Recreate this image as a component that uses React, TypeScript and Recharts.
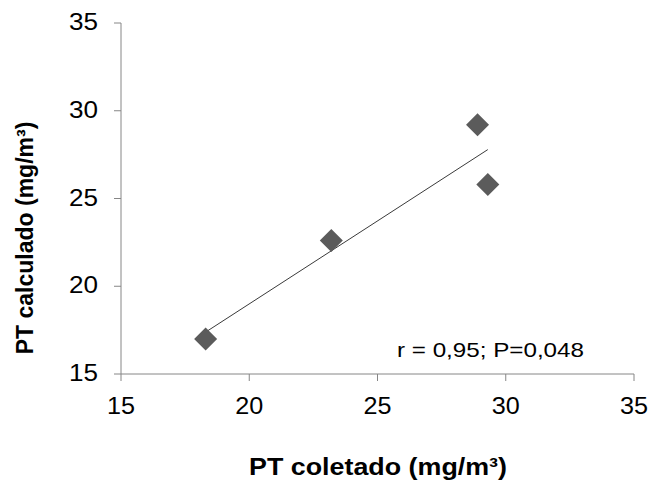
import React from 'react';
import { ScatterChart, Scatter, XAxis, YAxis, ReferenceLine } from 'recharts';

const xValues = [18.3, 23.2, 28.9, 29.3];
const yValues = [17.0, 22.6, 29.2, 25.8];
const xTicks = [15, 20, 25, 30, 35];
const yTicks = [15, 20, 25, 30, 35];
const xTitle = 'PT coletado (mg/m³)';
const yTitle = 'PT calculado (mg/m³)';
const statText = 'r = 0,95; P=0,048';

const points = xValues.map((x, i) => ({ x, y: yValues[i] }));

// least-squares trend line from the data
const n = xValues.length;
const mx = xValues.reduce((a, b) => a + b, 0) / n;
const my = yValues.reduce((a, b) => a + b, 0) / n;
let sxy = 0;
let sxx = 0;
xValues.forEach((x, i) => {
  sxy += (x - mx) * (yValues[i] - my);
  sxx += (x - mx) * (x - mx);
});
const slope = sxy / sxx;
const intercept = my - slope * mx;
const xMin = Math.min(...xValues);
const xMax = Math.max(...xValues);
const trendSegment = [
  { x: xMin, y: intercept + slope * xMin },
  { x: xMax, y: intercept + slope * xMax },
];

const FONT = '"Liberation Sans", Arial, sans-serif';
const AXIS = '#868686';

const Diamond = (props: any) => {
  const { cx, cy } = props;
  if (cx == null || cy == null) return null;
  const h = 11.5;
  return (
    <polygon
      points={`${cx},${cy - h} ${cx + h},${cy} ${cx},${cy + h} ${cx - h},${cy}`}
      fill="#5b5b5b"
    />
  );
};

const XTick = (props: any) => {
  const { x, y, payload } = props;
  return (
    <text
      x={x}
      y={y}
      dy={17}
      textAnchor="middle"
      fontFamily={FONT}
      fontSize={24}
      fill="#000"
      textLength={28}
      lengthAdjust="spacingAndGlyphs"
    >
      {String(payload.value)}
    </text>
  );
};

const YTick = (props: any) => {
  const { x, y, payload } = props;
  return (
    <text
      x={x}
      y={y}
      dy={7}
      textAnchor="end"
      fontFamily={FONT}
      fontSize={24}
      fill="#000"
      textLength={29}
      lengthAdjust="spacingAndGlyphs"
    >
      {String(payload.value)}
    </text>
  );
};

const XTitle = () => (
  <text
    x={378}
    y={475}
    textAnchor="middle"
    fontFamily={FONT}
    fontSize={24}
    fontWeight="bold"
    fill="#000"
    textLength={258}
    lengthAdjust="spacingAndGlyphs"
  >
    {xTitle}
  </text>
);

const YTitle = () => (
  <text
    x={0}
    y={0}
    transform="translate(33,238) rotate(-90)"
    textAnchor="middle"
    fontFamily={FONT}
    fontSize={23}
    fontWeight="bold"
    fill="#000"
  >
    {yTitle}
  </text>
);

export default function App() {
  return (
    <div style={{ position: 'absolute', left: 0, top: 0, width: 652, height: 482, background: '#fff' }}>
      <ScatterChart width={652} height={482} margin={{ top: 23, right: 18, bottom: 8, left: 0 }}>
        <XAxis
          type="number"
          dataKey="x"
          domain={[15, 35]}
          ticks={xTicks}
          height={100}
          tickSize={7}
          tickMargin={16}
          axisLine={{ stroke: AXIS, strokeWidth: 1 }}
          tickLine={{ stroke: AXIS, strokeWidth: 1 }}
          tick={<XTick />}
          label={<XTitle />}
        />
        <YAxis
          type="number"
          dataKey="y"
          domain={[15, 35]}
          ticks={yTicks}
          width={121}
          tickSize={7}
          tickMargin={16}
          axisLine={{ stroke: AXIS, strokeWidth: 1 }}
          tickLine={{ stroke: AXIS, strokeWidth: 1 }}
          tick={<YTick />}
          label={<YTitle />}
        />
        <ReferenceLine
          segment={trendSegment}
          stroke="#3a3a3a"
          strokeWidth={1}
          ifOverflow="visible"
        />
        <Scatter data={points} shape={<Diamond />} isAnimationActive={false} />
      </ScatterChart>
      <svg
        width={652}
        height={482}
        style={{ position: 'absolute', left: 0, top: 0, pointerEvents: 'none' }}
      >
        <text
          x={397}
          y={357}
          fontFamily={FONT}
          fontSize={21}
          fill="#000"
          textLength={187}
          lengthAdjust="spacingAndGlyphs"
        >
          {statText}
        </text>
      </svg>
    </div>
  );
}
